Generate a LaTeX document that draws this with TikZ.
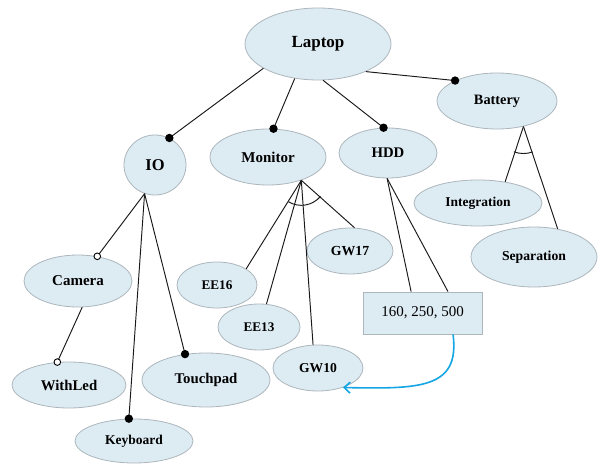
\documentclass[tikz,border=0pt]{standalone}
\usepackage{fontspec}
\setmainfont{Liberation Serif}
\usetikzlibrary{shapes.geometric,arrows.meta}

\definecolor{nodefill}{RGB}{221,235,243}
\definecolor{nodeedge}{RGB}{172,182,188}
\definecolor{linkcol}{RGB}{25,25,25}
\definecolor{refcol}{RGB}{20,165,228}

\tikzset{
  feat/.style n args={3}{ellipse, draw=nodeedge, fill=nodefill, line width=0.8pt,
    inner sep=0pt, minimum width=#1pt, minimum height=#2pt,
    font=\fontsize{#3}{#3}\selectfont\bfseries},
  valbox/.style={rectangle, draw=nodeedge, fill=nodefill, line width=0.8pt,
    inner sep=0pt, minimum width=119pt, minimum height=42pt,
    font=\fontsize{15}{15}\selectfont},
  link/.style={draw=linkcol, line width=0.95pt},
  mand/.style={fill=black},
  opt/.style={draw=black, fill=white, line width=0.9pt},
  refarrow/.style={draw=refcol, line width=1.6pt,
    -{Straight Barb[length=6pt,width=11pt,line width=1.6pt]}},
}

\begin{document}
\begin{tikzpicture}[x=1pt,y=1pt]
\useasboundingbox (0,0) rectangle (598,464);

% feature nodes
\node[feat={146}{72}{17}]   (laptop)  at (318,420) {Laptop};
\node[feat={62}{60}{16.5}]  (io)      at (155,299) {IO};
\node[feat={116}{56}{15}]   (monitor) at (268,307) {Monitor};
\node[feat={98}{50}{14.7}]  (hdd)     at (388,311) {HDD};
\node[feat={120}{56}{14.3}] (battery) at (497,363) {Battery};
\node[feat={128}{46}{13.5}] (integ)   at (478,261) {Integration};
\node[feat={126}{60}{13.7}] (separ)   at (534,207) {Separation};
\node[feat={86}{46}{13.8}]  (gw17)    at (350,213) {GW17};
\node[feat={80}{46}{13.2}]  (ee16)    at (217,179) {EE16};
\node[feat={82}{46}{13.2}]  (ee13)    at (259,137) {EE13};
\node[feat={90}{46}{13.6}]  (gw10)    at (318,96)  {GW10};
\node[feat={108}{52}{15}]   (camera)  at (78,183)  {Camera};
\node[feat={114}{46}{14.8}] (withled) at (69,79)   {WithLed};
\node[feat={128}{54}{14.8}] (touch)   at (206,84)  {Touchpad};
\node[feat={118}{44}{13.5}] (keyb)    at (134,23)  {Keyboard};
\node[valbox] (sizes) at (422.5,151) {160, 250, 500};

% group origins
\coordinate (mo) at (monitor.325.5);
\coordinate (ho) at (hdd.268);
\coordinate (bo) at (battery.316);
\coordinate (iob) at (io.250);

% mandatory children of Laptop
\draw[link] (laptop.204) -- (io.62);
\draw[link] (laptop.236.7) -- (monitor.79);
\draw[link] (laptop.278) -- (hdd.100);
\draw[link] (laptop.330) -- (battery.154);

% IO children
\draw[link] (iob) -- (camera.52);
\draw[link] (iob) -- (keyb.103);
\draw[link] (iob) -- (touch.129);
\draw[link] (camera.279) -- (withled.117);

% Monitor group
\draw[link] (mo) -- (ee16.29.5);
\draw[link] (mo) -- (ee13.72);
\draw[link] (mo) -- (gw10.102);
\draw[link] (mo) -- (gw17.79);
\draw[link] ([shift={(239:25pt)}]mo) arc (239:320:25pt);

% HDD values
\draw[link] (ho) -- (sizes.118.7);
\draw[link] (ho) -- (sizes.40.6);

% Battery group
\draw[link] (bo) -- (integ.38.7);
\draw[link] (bo) -- (separ.50);
\draw[link] ([shift={(249:27pt)}]bo) arc (249:290:27pt);

% markers
\fill[mand] (io.62) circle (4.2pt);
\fill[mand] (monitor.79) circle (4.2pt);
\fill[mand] (hdd.100) circle (4.2pt);
\fill[mand] (battery.154) circle (4.2pt);
\fill[mand] (keyb.103) circle (4.2pt);
\fill[mand] (touch.129) circle (4.2pt);
\filldraw[opt] (camera.52) circle (3.3pt);
\filldraw[opt] (withled.117) circle (3.3pt);

% reference from the size values to GW10
\draw[refarrow] (sizes.325.5) .. controls (460,75) and (420,75) .. (gw10.322);
\end{tikzpicture}
\end{document}
